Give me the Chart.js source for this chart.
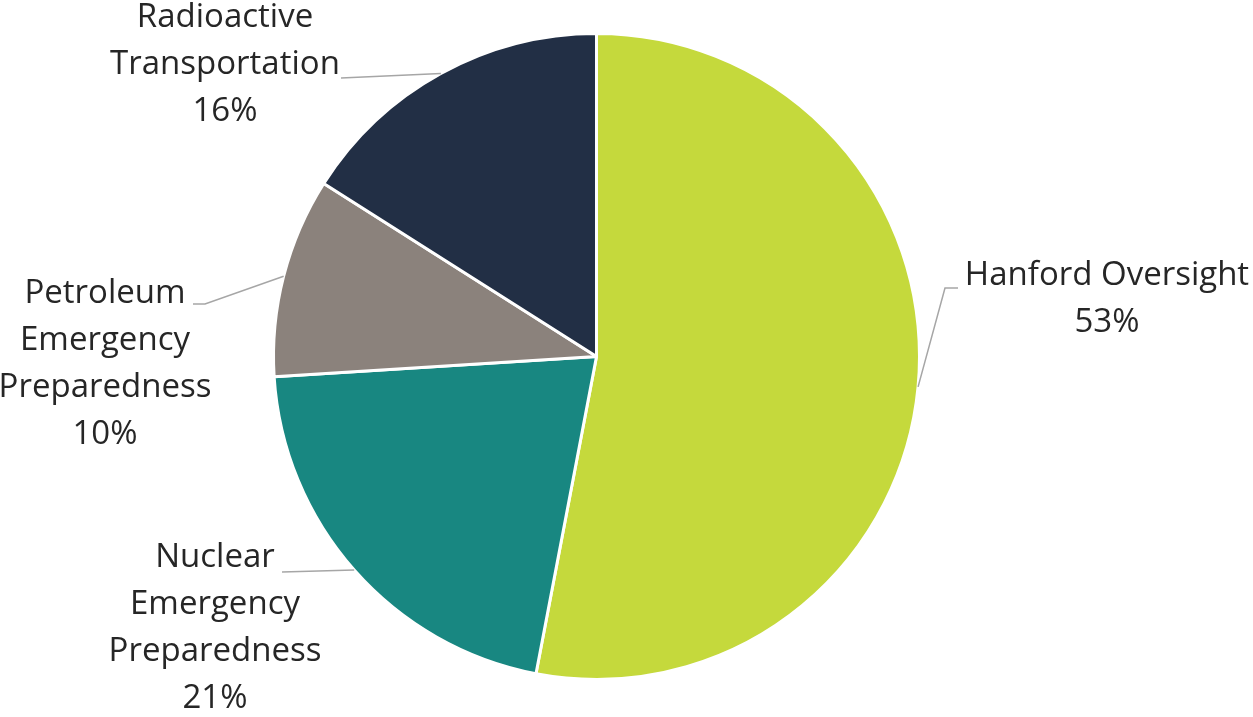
<!DOCTYPE html>
<html>
<head>
<meta charset="utf-8">
<script src="https://cdn.jsdelivr.net/npm/chart.js@4.4.1/dist/chart.umd.min.js"></script>
<style>
  html, body { margin: 0; padding: 0; background: #fff; }
  canvas { display: block; }
</style>
</head>
<body>
<canvas id="budgetPie" width="1253" height="717"></canvas>
<script>
// program areas, each name already wrapped into lines
const categories = [
  ['Hanford Oversight'],
  ['Nuclear', 'Emergency', 'Preparedness'],
  ['Petroleum', 'Emergency', 'Preparedness'],
  ['Radioactive', 'Transportation']
];
const shares = [53, 21, 10, 16];
const colors = ['#c5d93c', '#188781', '#8b827c', '#222f45'];

// where each label block sits and where its leader line ends
const labelLayout = [
  { x: 1107, y: 276, leader: [[945, 288], [958, 288]] },
  { x: 215, y: 558, leader: [[282, 572]] },
  { x: 105, y: 294, leader: [[205, 304], [193, 304]] },
  { x: 225, y: 18, leader: [[341, 78]] }
];

const FONT = '33px "Open Sans", Lato, sans-serif';
const LINE_H = 47;

const sliceLabels = {
  id: 'sliceLabels',
  afterDraw(chart) {
    const ctx = chart.ctx;
    const arcs = chart.getDatasetMeta(0).data;
    const data = chart.data.datasets[0].data;
    const total = data.reduce((a, b) => a + b, 0);
    ctx.save();
    arcs.forEach((arc, i) => {
      const lay = labelLayout[i];
      const mid = (arc.startAngle + arc.endAngle) / 2;
      const px = arc.x + Math.cos(mid) * arc.outerRadius;
      const py = arc.y + Math.sin(mid) * arc.outerRadius;

      // leader line from the slice edge to the text
      ctx.strokeStyle = '#a6a6a6';
      ctx.lineWidth = 1.5;
      ctx.beginPath();
      ctx.moveTo(px, py);
      lay.leader.forEach(p => ctx.lineTo(p[0], p[1]));
      ctx.stroke();

      const lines = chart.data.labels[i].concat([Math.round(data[i] / total * 100) + '%']);
      ctx.fillStyle = '#262626';
      ctx.font = FONT;
      ctx.textAlign = 'center';
      ctx.textBaseline = 'middle';
      lines.forEach((t, k) => ctx.fillText(t, lay.x, lay.y + k * LINE_H));
    });
    ctx.restore();
  }
};

new Chart(document.getElementById('budgetPie'), {
  type: 'pie',
  data: {
    labels: categories,
    datasets: [{
      data: shares,
      backgroundColor: colors,
      borderColor: '#ffffff',
      borderWidth: 3
    }]
  },
  options: {
    responsive: false,
    animation: false,
    layout: { padding: { left: 272, right: 332, top: 32, bottom: 36 } },
    plugins: {
      legend: { display: false },
      tooltip: { enabled: false }
    }
  },
  plugins: [sliceLabels]
});
</script>
</body>
</html>
